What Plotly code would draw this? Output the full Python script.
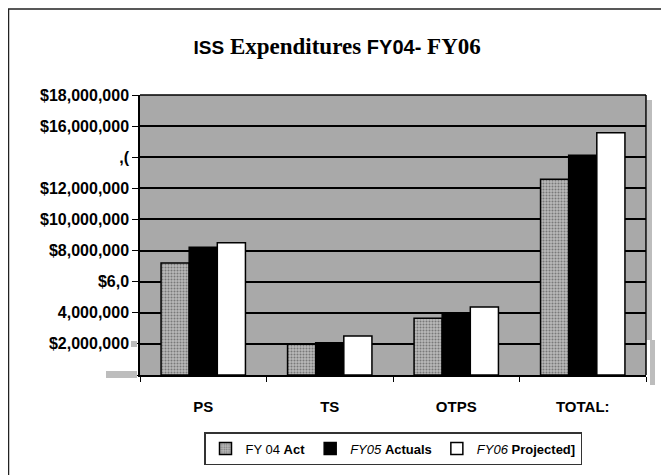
import plotly.graph_objects as go

categories = ["PS", "TS", "OTPS", "TOTAL:"]
fy04_act = [7200000, 1970000, 3650000, 12580000]
fy05_act = [8220000, 2080000, 3920000, 14120000]
fy06_proj = [8500000, 2500000, 4370000, 15580000]

tick_vals = [0, 2000000, 4000000, 6000000, 8000000, 10000000, 12000000, 14000000, 16000000, 18000000]
tick_text = ["", "$2,000,000", "4,000,000", "$6,0", "$8,000,000", "$10,000,000",
             "$12,000,000", ",(", "$16,000,000", "$18,000,000"]

fig = go.Figure()
fig.add_trace(go.Bar(
    x=categories, y=fy04_act, name="FY 04 <b>Act</b>",
    marker=dict(color="#b4b4b4", line=dict(color="black", width=1.5),
                pattern=dict(shape=".", fgcolor="#3a3a3a", bgcolor="#b8b8b8", size=3, solidity=0.35)),
))
fig.add_trace(go.Bar(
    x=categories, y=fy05_act, name="<i>FY05</i> <b>Actuals</b>",
    marker=dict(color="black", line=dict(color="black", width=1.5)),
))
fig.add_trace(go.Bar(
    x=categories, y=fy06_proj, name="<i>FY06</i> <b>Projected]</b>",
    marker=dict(color="white", line=dict(color="black", width=1.5)),
))

serif = "Liberation Serif, Times New Roman, serif"
sans = "Liberation Sans, Arial, sans-serif"

title_text = (
    f"<span style='font-family:{sans};font-size:19px;font-weight:bold'>ISS</span> "
    f"<b>Expenditures</b> "
    f"<span style='font-family:{sans};font-size:20px;font-weight:bold'>FY04-</span> "
    f"<b>FY06</b>"
)

# plot area in page pixels: x 140..646, y 95..375
def px(x):
    return (x - 140) / 506

def py(y):
    return (375 - y) / 280

fig.update_layout(
    width=669, height=475,
    margin=dict(l=132, r=31, t=87, b=108, autoexpand=False),
    paper_bgcolor="white",
    plot_bgcolor="#a9a9a9",
    barmode="group",
    bargap=0.333,
    bargroupgap=0,
    title=dict(text=title_text, x=0.492, xanchor="center", y=0.92, yanchor="middle",
               font=dict(family=serif, size=23, color="black")),
    font=dict(family=sans, color="black"),
    legend=dict(orientation="h", x=px(393), xanchor="center", y=py(432), yanchor="top",
                bordercolor="#333", borderwidth=1.5, bgcolor="white",
                font=dict(family=sans, size=13, color="black"),
                itemwidth=30, traceorder="normal"),
    xaxis=dict(showline=True, linecolor="black", linewidth=1.5, ticks="outside",
               tickson="boundaries", ticklen=5, tickcolor="black",
               ticklabelstandoff=17, automargin=False,
               tickfont=dict(family=sans, size=15, color="black", weight="bold")),
    yaxis=dict(range=[0, 18000000], tickvals=tick_vals, ticktext=tick_text,
               showline=True, linecolor="black", linewidth=1.5, ticks="outside",
               ticklen=6, tickcolor="black", showgrid=True, gridcolor="black",
               gridwidth=1.5, zeroline=False, automargin=False,
               tickfont=dict(family=sans, size=16, color="black", weight="bold")),
    showlegend=True,
)

# outer frame
fig.add_shape(type="rect", xref="paper", yref="paper",
              x0=px(8.5), x1=px(665), y0=py(490), y1=py(9),
              line=dict(color="#222", width=1.5), layer="below")
fig.add_shape(type="line", xref="paper", yref="paper", x0=0, x1=1, y0=1, y1=1,
              line=dict(color="black", width=1.5))
fig.add_shape(type="line", xref="paper", yref="paper", x0=1, x1=1, y0=0, y1=1,
              line=dict(color="black", width=1.5))
# scan artefacts (gray strips)
fig.add_shape(type="rect", xref="paper", yref="paper",
              x0=px(647), x1=px(652), y0=py(340), y1=py(100),
              fillcolor="#bdbdbd", line=dict(width=0))
fig.add_shape(type="rect", xref="paper", yref="paper",
              x0=px(650), x1=px(655), y0=py(385), y1=py(340),
              fillcolor="#bdbdbd", line=dict(width=0))
fig.add_shape(type="rect", xref="paper", yref="paper",
              x0=px(106), x1=px(137), y0=py(378), y1=py(371),
              fillcolor="#bdbdbd", line=dict(width=0))
fig.add_shape(type="rect", xref="paper", yref="paper",
              x0=px(131), x1=px(137), y0=py(347), y1=py(341),
              fillcolor="#bdbdbd", line=dict(width=0))

fig.write_html("out.html")
